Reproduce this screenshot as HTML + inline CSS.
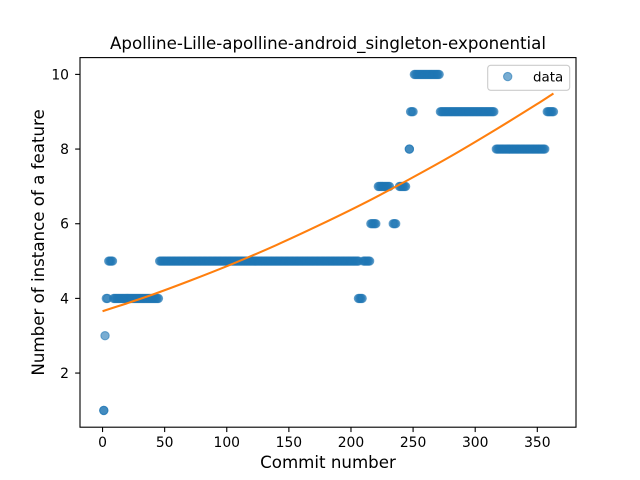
<!DOCTYPE html>
<html>
<head>
<meta charset="utf-8">
<style>
html,body{margin:0;padding:0;background:#fff;}
svg{display:block;}
text{font-family:"DejaVu Sans","Liberation Sans",sans-serif;fill:#000;}
</style>
</head>
<body>
<svg id="chart" xmlns="http://www.w3.org/2000/svg" width="640" height="480" viewBox="0 0 640 480">
  <rect x="0" y="0" width="640" height="480" fill="#fff"/>
  <text x="328" y="49" font-size="16.67" text-anchor="middle">Apolline-Lille-apolline-android_singleton-exponential</text>
  <text x="328" y="468" font-size="16.67" text-anchor="middle">Commit number</text>
  <text x="0" y="0" font-size="16.67" text-anchor="middle" transform="translate(44 242.4) rotate(-90)">Number of instance of a feature</text>
  <g id="points"></g>
  <path id="fit" fill="none" stroke="#ff7f0e" stroke-width="2.08"/>
  <g id="ticks"></g>
  <rect x="80" y="57.6" width="496" height="369.6" fill="none" stroke="#000" stroke-width="1.11"/>
  <g>
    <rect x="487.7" y="65.3" width="82" height="25" rx="3" ry="3" fill="#fff" fill-opacity="0.8" stroke="#ccc" stroke-width="1.11"/>
    <circle cx="507.7" cy="76.6" r="4.17" fill="#1f77b4" fill-opacity="0.6" stroke="#1f77b4" stroke-opacity="0.6" stroke-width="1.04"/>
    <text x="533" y="81.4" font-size="13.4">data</text>
  </g>
</svg>
<script>
const instanceCounts = [1, 3, 4, 5, 6, 7, 8, 9, 10];
const commitsByCount = [
  [1, 1],
  [2],
  [3, 4, 9, 10, 11, 12, 13, 14, 15, 16, 17, 18, 19, 20, 21, 22, 23, 24, 25, 26, 27, 28, 29, 30, 31, 32, 33, 34, 35, 36, 37, 38, 39, 40, 41, 42, 43, 44, 45, 206, 207, 208, 209],
  [5, 6, 7, 8, 46, 47, 48, 49, 50, 51, 52, 53, 54, 55, 56, 57, 58, 59, 60, 61, 62, 63, 64, 65, 66, 67, 68, 69, 70, 71, 72, 73, 74, 75, 76, 77, 78, 79, 80, 81, 82, 83, 84, 85, 86, 87, 88, 89, 90, 91, 92, 93, 94, 95, 96, 97, 98, 99, 100, 101, 102, 103, 104, 105, 106, 107, 108, 109, 110, 111, 112, 113, 114, 115, 116, 117, 118, 119, 120, 121, 122, 123, 124, 125, 126, 127, 128, 129, 130, 131, 132, 133, 134, 135, 136, 137, 138, 139, 140, 141, 142, 143, 144, 145, 146, 147, 148, 149, 150, 151, 152, 153, 154, 155, 156, 157, 158, 159, 160, 161, 162, 163, 164, 165, 166, 167, 168, 169, 170, 171, 172, 173, 174, 175, 176, 177, 178, 179, 180, 181, 182, 183, 184, 185, 186, 187, 188, 189, 190, 191, 192, 193, 194, 195, 196, 197, 198, 199, 200, 201, 202, 203, 204, 205, 206, 210, 211, 212, 213, 214, 215],
  [216, 217, 218, 219, 220, 234, 235, 236],
  [222, 223, 224, 225, 226, 227, 228, 229, 230, 231, 239, 240, 241, 242, 243, 244],
  [247, 247, 317, 318, 319, 320, 321, 322, 323, 324, 325, 326, 327, 328, 329, 330, 331, 332, 333, 334, 335, 336, 337, 338, 339, 340, 341, 342, 343, 344, 345, 346, 347, 348, 349, 350, 351, 352, 353, 354, 355, 356],
  [248, 249, 250, 272, 273, 274, 275, 276, 277, 278, 279, 280, 281, 282, 283, 284, 285, 286, 287, 288, 289, 290, 291, 292, 293, 294, 295, 296, 297, 298, 299, 300, 301, 302, 303, 304, 305, 306, 307, 308, 309, 310, 311, 312, 313, 314, 315, 358, 359, 360, 361, 362, 363],
  [251, 252, 253, 254, 255, 256, 257, 258, 259, 260, 261, 262, 263, 264, 265, 266, 267, 268, 269, 270, 271]
];
const fitCommits = [0, 35, 70, 105, 140, 175, 210, 245, 280, 315, 350, 363];
const fitValues = [3.655, 4.04, 4.47, 4.93, 5.43, 5.97, 6.54, 7.155, 7.80, 8.49, 9.21, 9.49];
const xTickLabels = [0, 50, 100, 150, 200, 250, 300, 350];
const yTickLabels = [2, 4, 6, 8, 10];

const plotLeft = 80, plotRight = 576, plotTop = 57.6, plotBottom = 427.2;
const xMin = -18.15, xMax = 381.15, yMin = 0.55, yMax = 10.45;
function xScale(v) { return plotLeft + (v - xMin) / (xMax - xMin) * (plotRight - plotLeft); }
function yScale(v) { return plotBottom - (v - yMin) / (yMax - yMin) * (plotBottom - plotTop); }

const SVGNS = 'http://www.w3.org/2000/svg';
const pointsGroup = document.getElementById('points');
instanceCounts.forEach(function (count, i) {
  commitsByCount[i].forEach(function (commit) {
    const c = document.createElementNS(SVGNS, 'circle');
    
    
    c.setAttribute('cx', xScale(commit));
    c.setAttribute('cy', yScale(count));
    c.setAttribute('r', 4.17);
    c.setAttribute('fill', '#1f77b4');
    c.setAttribute('fill-opacity', 0.6);
    c.setAttribute('stroke', '#1f77b4');
    c.setAttribute('stroke-opacity', 0.6);
    c.setAttribute('stroke-width', 1.04);
    pointsGroup.appendChild(c);
  });
});

/* Smooth path through the fit samples (monotone-x cubic Hermite segments). */
const fitPx = fitCommits.map(function (commit, i) {
  return [xScale(commit), yScale(fitValues[i])];
});
function fitSlope(i) {
  const a = fitPx[Math.max(i - 1, 0)];
  const b = fitPx[Math.min(i + 1, fitPx.length - 1)];
  return (b[1] - a[1]) / (b[0] - a[0]);
}
let fitPath = 'M' + fitPx[0][0] + ' ' + fitPx[0][1];
for (let i = 0; i < fitPx.length - 1; i++) {
  const p1 = fitPx[i];
  const p2 = fitPx[i + 1];
  const dx = (p2[0] - p1[0]) / 3;
  fitPath += ' C' + (p1[0] + dx) + ' ' + (p1[1] + fitSlope(i) * dx) +
    ' ' + (p2[0] - dx) + ' ' + (p2[1] - fitSlope(i + 1) * dx) +
    ' ' + p2[0] + ' ' + p2[1];
}
document.getElementById('fit').setAttribute('d', fitPath);

const ticksGroup = document.getElementById('ticks');
xTickLabels.forEach(function (label) {
  const px = xScale(label);
  const l = document.createElementNS(SVGNS, 'line');
  
  
  l.setAttribute('x1', px);
  l.setAttribute('x2', px);
  l.setAttribute('y1', plotBottom);
  l.setAttribute('y2', plotBottom + 4.86);
  l.setAttribute('stroke', '#000');
  l.setAttribute('stroke-width', 1.11);
  ticksGroup.appendChild(l);
  const t = document.createElementNS(SVGNS, 'text');
  
  
  t.setAttribute('x', px);
  t.setAttribute('y', 447);
  t.setAttribute('font-size', 13.89);
  t.setAttribute('text-anchor', 'middle');
  t.textContent = label;
  ticksGroup.appendChild(t);
});
yTickLabels.forEach(function (label) {
  const py = yScale(label);
  const l = document.createElementNS(SVGNS, 'line');
  
  
  l.setAttribute('x1', plotLeft - 4.86);
  l.setAttribute('x2', plotLeft);
  l.setAttribute('y1', py);
  l.setAttribute('y2', py);
  l.setAttribute('stroke', '#000');
  l.setAttribute('stroke-width', 1.11);
  ticksGroup.appendChild(l);
  const t = document.createElementNS(SVGNS, 'text');
  
  
  t.setAttribute('x', 69);
  t.setAttribute('y', py + 5);
  t.setAttribute('font-size', 13.89);
  t.setAttribute('text-anchor', 'end');
  t.textContent = label;
  ticksGroup.appendChild(t);
});
</script>
</body>
</html>
